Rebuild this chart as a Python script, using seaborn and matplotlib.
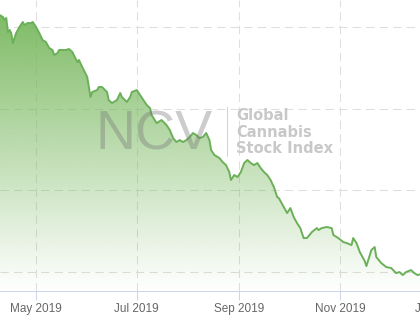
import numpy as np
import pandas as pd
import matplotlib
matplotlib.use("Agg")
import matplotlib.pyplot as plt
import matplotlib.dates as mdates
import seaborn as sns
from matplotlib.lines import Line2D
from matplotlib.colors import to_rgb
from matplotlib.transforms import ScaledTranslation

# ---------------- data ----------------
dates = [
    "2019-04-09", "2019-04-11", "2019-04-12", "2019-04-13", "2019-04-14", "2019-04-15",
    "2019-04-16", "2019-04-17", "2019-04-19", "2019-04-21", "2019-04-23", "2019-04-24",
    "2019-04-26", "2019-04-28", "2019-04-29", "2019-05-01", "2019-05-03", "2019-05-05",
    "2019-05-07", "2019-05-09", "2019-05-11", "2019-05-12", "2019-05-14", "2019-05-15",
    "2019-05-19", "2019-05-21", "2019-05-23", "2019-05-26", "2019-05-27", "2019-05-29",
    "2019-06-01", "2019-06-02", "2019-06-03", "2019-06-04", "2019-06-07", "2019-06-08",
    "2019-06-10", "2019-06-13", "2019-06-14", "2019-06-16", "2019-06-19", "2019-06-21",
    "2019-06-22", "2019-06-25", "2019-06-27", "2019-06-28", "2019-07-01", "2019-07-03",
    "2019-07-05", "2019-07-07", "2019-07-09", "2019-07-10", "2019-07-13", "2019-07-16",
    "2019-07-19", "2019-07-21", "2019-07-23", "2019-07-25", "2019-07-27", "2019-07-29",
    "2019-07-31", "2019-08-02", "2019-08-04", "2019-08-06", "2019-08-08", "2019-08-10",
    "2019-08-12", "2019-08-14", "2019-08-15", "2019-08-17", "2019-08-20", "2019-08-22",
    "2019-08-24", "2019-08-26", "2019-08-27", "2019-08-29", "2019-08-31", "2019-09-02",
    "2019-09-04", "2019-09-06", "2019-09-08", "2019-09-10", "2019-09-12", "2019-09-14",
    "2019-09-16", "2019-09-18", "2019-09-20", "2019-09-22", "2019-09-24", "2019-09-25",
    "2019-09-28", "2019-09-30", "2019-10-02", "2019-10-04", "2019-10-06", "2019-10-08",
    "2019-10-10", "2019-10-12", "2019-10-15", "2019-10-18", "2019-10-19", "2019-10-21",
    "2019-10-24", "2019-10-27", "2019-10-28", "2019-10-31", "2019-11-03", "2019-11-05",
    "2019-11-08", "2019-11-09", "2019-11-11", "2019-11-13", "2019-11-16", "2019-11-17",
    "2019-11-20", "2019-11-22", "2019-11-23", "2019-11-26", "2019-11-29", "2019-12-02",
    "2019-12-05", "2019-12-07", "2019-12-09", "2019-12-11", "2019-12-14", "2019-12-16",
    "2019-12-18", "2019-12-20",
]
values = [
    61.46, 61.22, 60.85, 61.10, 59.38, 59.63,
    59.26, 58.04, 59.26, 60.00, 60.61, 60.24,
    60.48, 60.48, 60.61, 60.00, 59.26, 58.40,
    58.16, 57.42, 57.18, 56.57, 56.81, 57.18,
    57.18, 57.30, 56.94, 55.71, 55.96, 55.10,
    53.88, 52.65, 51.43, 52.04, 52.28, 52.65,
    52.65, 52.04, 51.06, 50.69, 51.06, 51.92,
    51.43, 50.82, 51.43, 52.04, 52.28, 51.67,
    51.06, 50.45, 50.08, 49.22, 48.24, 48.61,
    48.00, 47.39, 46.41, 45.92, 46.16, 45.92,
    46.16, 46.53, 47.02, 46.78, 46.41, 46.53,
    47.02, 46.16, 44.94, 44.33, 43.96, 43.47,
    43.10, 42.25, 41.27, 41.88, 41.64, 42.25,
    43.35, 43.72, 43.35, 43.10, 43.35, 42.74,
    42.25, 41.88, 41.27, 40.41, 39.19, 39.06,
    37.96, 37.23, 37.84, 36.74, 36.00, 35.39,
    34.17, 34.17, 34.90, 35.39, 35.15, 35.39,
    35.52, 35.39, 34.54, 34.17, 33.68, 33.56,
    33.31, 34.17, 33.56, 32.46, 31.35, 30.74,
    32.70, 33.07, 31.84, 31.11, 30.62, 30.50,
    29.88, 30.01, 29.64, 30.01, 30.25, 29.88,
    29.64, 29.76,
]
grid_values = [30, 40, 50, 60]
tick_months = ["2019-05-01", "2019-07-01", "2019-09-01", "2019-11-01", "2020-01-01"]
watermark_big = "NCV"
watermark_lines = ["Global", "Cannabis", "Stock Index"]

# ---------------- style ----------------
sns.set_style("white")
plt.rcParams["font.family"] = ["Liberation Sans", "DejaVu Sans"]

LINE_COLOR = "#6bb058"
FILL_COLOR = "#78b85e"
GRID_COLOR = "#dedede"
AXIS_COLOR = "#ccd6eb"

W, H = 420, 322
fig = plt.figure(figsize=(W / 100, H / 100), dpi=100)
fig.patch.set_facecolor("white")

ppd = 1.652  # pixels per day
xmin = pd.Timestamp("2019-04-09 05:00")
xmax = pd.Timestamp("2020-01-25")
span_px = (xmax - xmin).total_seconds() / 86400 * ppd
axis_y = 291
ax = fig.add_axes([0, (H - axis_y) / H, span_px / W, axis_y / H])
ymin, ymax = 27.69, 63.30

df = pd.DataFrame({"date": pd.to_datetime(dates), "value": values})

# gradient area fill
poly = ax.fill_between(df["date"], df["value"], ymin, color="none", lw=0)
n = 256
grad = np.zeros((n, 1, 4))
grad[:, 0, :3] = to_rgb(FILL_COLOR)
frac = np.linspace(0, 1, n)
grad[:, 0, 3] = np.clip(frac * 291 / 276, 0, 1) * 0.95
im = ax.imshow(grad, extent=[mdates.date2num(xmin), mdates.date2num(xmax), ymin, ymax],
               origin="lower", aspect="auto", zorder=2, interpolation="bilinear")
im.set_clip_path(poly.get_paths()[0], transform=ax.transData)

sns.lineplot(data=df, x="date", y="value", ax=ax, color=LINE_COLOR, linewidth=1.4, zorder=3)

ax.set_xlim(xmin, xmax)
ax.set_ylim(ymin, ymax)
ax.set_xlabel("")
ax.set_ylabel("")

ax.set_yticks(grid_values)
ax.set_xticks(pd.to_datetime(tick_months))
ax.xaxis.set_major_formatter(mdates.DateFormatter("%b %Y"))
ax.set_axisbelow(True)
ax.grid(True, color=GRID_COLOR, lw=0.75, linestyle=(0, (8, 5)))
ax.tick_params(axis="y", length=0, labelleft=False)
ax.tick_params(axis="x", length=6.5, width=0.75, color=AXIS_COLOR, labelsize=8.5,
               labelcolor="#666666", pad=2.2, bottom=True)
for s in ["top", "left", "right"]:
    ax.spines[s].set_visible(False)
ax.spines["bottom"].set_color(AXIS_COLOR)
ax.spines["bottom"].set_linewidth(0.75)

lbl = ax.get_xticklabels()[-1]
lbl.set_transform(lbl.get_transform() + ScaledTranslation(-0.015, 0, fig.dpi_scale_trans))

# watermark
fig.text(95 / W, 1 - 150 / H, watermark_big, fontsize=40, color=(0.45, 0.45, 0.45),
         alpha=0.36, ha="left", va="baseline", family="Liberation Sans", zorder=5)
fig.add_artist(Line2D([227.5 / W, 227.5 / W], [1 - 107 / H, 1 - 156 / H],
                      color="#d2d2d2", lw=0.75, zorder=5))
for txt, base in zip(watermark_lines, [120, 137, 153]):
    fig.text(236 / W, 1 - base / H, txt, fontsize=10.5, fontweight="bold",
             color="#c8c8c8", ha="left", va="baseline", family="DejaVu Sans", zorder=5)

fig.savefig("out.png", dpi=100)
